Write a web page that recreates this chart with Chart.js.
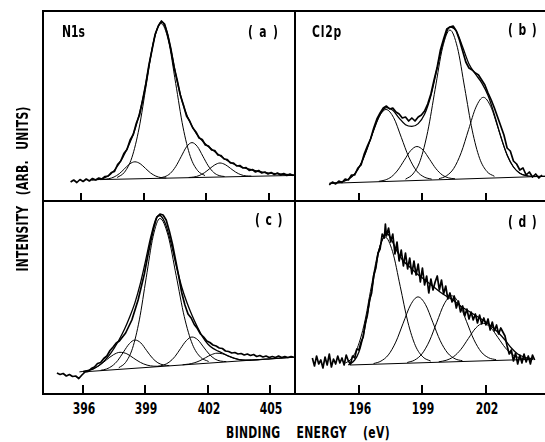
<!DOCTYPE html>
<html><head><meta charset="utf-8">
<script src="https://cdn.jsdelivr.net/npm/chart.js@4.4.1/dist/chart.umd.min.js"></script>
<style>
html,body{margin:0;padding:0;background:#fff;}
body{width:545px;height:442px;position:relative;overflow:hidden;font-family:"Liberation Sans Narrow","DejaVu Sans Condensed",sans-serif;font-weight:bold;color:#000;}
canvas{position:absolute;display:block;}
.ln{position:absolute;background:#000;z-index:3;}
.t{position:absolute;white-space:nowrap;line-height:1;font-size:15px;z-index:4;}
.lt{transform-origin:0 0;transform:scaleX(0.8);}
</style></head><body>
<canvas id="pa" width="252" height="190" style="left:43px;top:11px"></canvas>
<canvas id="pb" width="250" height="190" style="left:295px;top:11px"></canvas>
<canvas id="pc" width="252" height="193" style="left:43px;top:201px"></canvas>
<canvas id="pd" width="250" height="193" style="left:295px;top:201px"></canvas>

<div class="ln" style="left:42px;top:10px;width:503px;height:2px"></div>
<div class="ln" style="left:42px;top:200px;width:503px;height:2px"></div>
<div class="ln" style="left:42px;top:393px;width:503px;height:2px"></div>
<div class="ln" style="left:42px;top:10px;width:2px;height:385px"></div>
<div class="ln" style="left:294px;top:10px;width:2px;height:385px"></div>

<div class="t lt" style="left:62px;top:25px">N1s</div>
<div class="t lt" style="left:248px;top:25px;letter-spacing:8px">(a)</div>
<div class="t lt" style="left:312px;top:25px;letter-spacing:1px">Cl2p</div>
<div class="t lt" style="left:508px;top:23px;letter-spacing:7px">(b)</div>
<div class="t lt" style="left:255px;top:213px;letter-spacing:7px">(c)</div>
<div class="t lt" style="left:508px;top:215px;letter-spacing:7px">(d)</div>
<div class="t" id="xtitle" style="left:308px;top:426px;transform:translateX(-50%) scaleX(0.8);letter-spacing:0.4px;word-spacing:15px">BINDING ENERGY (eV)</div>
<div class="t" id="ytitle" style="left:23px;top:189px;transform:translate(-50%,-50%) rotate(-90deg) scaleX(0.8);letter-spacing:0.3px;word-spacing:8px">INTENSITY (ARB. UNITS)</div>

<script>
// ---------- tick values ----------
const ticksN = [396, 399, 402, 405];
const ticksCl = [196, 199, 202];

// ---------- panel (a) N1s ----------
const aDataE = [395.5,395.65,395.8,395.95,396.1,396.25,396.4,396.55,396.7,396.85,
397,397.15,397.3,397.45,397.6,397.75,397.9,398.05,398.2,398.35,
398.5,398.65,398.8,398.95,399.1,399.25,399.4,399.55,399.7,399.85,
400,400.15,400.3,400.45,400.6,400.75,400.9,401.05,401.2,401.35,
401.5,401.65,401.8,401.95,402.1,402.25,402.4,402.55,402.7,402.85,
403,403.15,403.3,403.45,403.6,403.75,403.9,404.05,404.2,404.35,
404.5,404.65,404.8,404.95,405.1,405.25,405.4,405.55,405.7,405.85,
406,406.15];
const aDataI = [19,21,18.5,21.5,19.5,22,20,22.5,21,23,
22,24.5,25,28.5,29.5,36.5,40,47.5,51.5,61,
66.5,78,86,101,117,136,151.5,167,175,180,
177,166,152,134,121,106,96,85,80,73,
69,63,61.5,56,55,51,50.5,46,45.5,42,
41.5,38,38,35,35.5,33,33.5,30.5,31.5,29,
30.5,28,29,27,28.5,26.5,28,26,27.5,25.5,
27,25.5];
const aFitE = [396.5,397,397.4,397.8,398.2,398.6,399,399.3,399.55,399.85,400.1,400.35,400.6,400.85,401.1,401.5,401.9,402.3,402.8,403.4,404,404.8,405.5,406.2];
const aFitI = [21,22.2,26.5,36.5,52,73,106,141,166,179,170,146,120,99,84,68,58,51,43,36,32,28.3,27,26];
const aC1E = [397.08,397.33,397.58,397.83,398.08,398.33,398.58,398.83,399.08,399.33,399.58,399.83,400.08];
const aC1I = [21.7,22.3,24,27.3,32.2,37.1,39.2,37.3,32.7,28,24.9,23.4,23];
const aC2E = [397.73,398.08,398.43,398.78,399.13,399.48,399.83,400.18,400.53,400.88,401.23,401.58,401.93];
const aC2I = [23.5,28.8,43.2,73,117.1,160.2,177.5,160.5,117.7,73.9,44.5,30.4,25.4];
const aC3E = [399.75,400.01,400.27,400.53,400.79,401.05,401.31,401.57,401.83,402.09,402.35,402.61,402.87];
const aC3I = [23.1,24.3,27.6,34.4,44.3,54.2,58.4,54.4,44.8,35.1,28.5,25.4,24.5];
const aC4E = [401.15,401.4,401.65,401.9,402.15,402.4,402.65,402.9,403.15,403.4,403.65,403.9,404.15];
const aC4I = [23.5,24,25.4,28.2,32.2,36.1,38,36.4,32.7,28.9,26.3,25.1,24.9];
const aBgE = [396.9, 406.24];
const aBgI = [21.4, 25.6];

// ---------- panel (b) Cl2p ----------
const bDataE = [194.6,194.75,194.9,195.05,195.2,195.35,195.5,195.65,195.8,195.95,
196.1,196.25,196.4,196.55,196.7,196.85,197,197.15,197.3,197.45,
197.6,197.75,197.9,198.05,198.2,198.35,198.5,198.65,198.8,198.95,
199.1,199.25,199.4,199.55,199.7,199.85,200,200.15,200.3,200.45,
200.6,200.75,200.9,201.05,201.2,201.35,201.5,201.65,201.8,201.95,
202.1,202.25,202.4,202.55,202.7,202.85,203,203.15,203.3,203.45,
203.6,203.75,203.9,204.05,204.2,204.35,204.5,204.65];
const bDataI = [16,19,17,20,18.5,22,21,26,26,33,
36,47,55,62,73,82,88,93,95,92,
93,89,87,83,84,80,83,80,84,86,
90,97,107,121,134,151,162,172,174,175,
170,161,150,139,133,131,128,126,121,116,
108,101,93,84,75,66,53,50,40,37,
31,33,26,29,24,27,23,26];
const bFitE = [194.6,194.9,195.2,195.5,195.8,196.1,196.4,196.7,197,197.3,197.6,197.9,198.2,198.5,198.8,199.1,199.4,199.7,200,200.3,200.6,200.9,201.2,201.5,201.8,202.1,202.4,202.7,203,203.3,203.6,203.9,204.2,204.79];
const bFitI = [17.7,18.2,19.2,21.7,27.1,37.4,53.1,71,86.5,93.4,90.8,82.9,76.3,74.6,77.4,86.7,105.5,133.5,160,174,170,154,137,127,118.2,105.5,86.3,64.6,46,34,27.8,25.3,24.6,24.7];
const bC1E = [195.12,195.48,195.84,196.2,196.56,196.92,197.28,197.64,198,198.36,198.72,199.08,199.44];
const bC1I = [18.8,21.5,28.2,42.2,62.7,82.8,91.5,83.3,63.7,43.7,30.2,24,21.8];
const bC2E = [196.94,197.24,197.54,197.84,198.14,198.44,198.74,199.04,199.34,199.64,199.94,200.24,200.54];
const bC2I = [19.7,21,24.3,31,40.7,50.3,54.5,50.7,41.6,32.3,26,23.1,22.2];
const bC3E = [198.2,198.55,198.9,199.25,199.6,199.95,200.3,200.65,201,201.35,201.7,202.05,202.4];
const bC3I = [21.8,27,40.7,69.5,111.7,153.2,171,153.7,112.7,70.9,42.7,29.4,24.7];
const bC4E = [199.78,200.13,200.48,200.83,201.18,201.53,201.88,202.23,202.58,202.93,203.28,203.63,203.98];
const bC4I = [22.2,25.1,32.6,48.3,71.4,93.9,103.7,94.3,72.4,49.7,34.6,27.5,25.1];
const bBgE = [194.63, 204.79];
const bBgI = [17.7, 24.7];

// ---------- panel (c) N1s ----------
const cDataE = [394.75,394.9,395.05,395.2,395.35,395.5,395.65,395.8,395.95,396.1,
396.25,396.4,396.55,396.7,396.85,397,397.15,397.3,397.45,397.6,
397.75,397.9,398.05,398.2,398.35,398.5,398.65,398.8,398.95,399.1,
399.25,399.4,399.55,399.7,399.85,400,400.15,400.3,400.45,400.6,
400.75,400.9,401.05,401.2,401.35,401.5,401.65,401.8,401.95,402.1,
402.25,402.4,402.55,402.7,402.85,403,403.15,403.3,403.45,403.6,
403.75,403.9,404.05,404.2,404.35,404.5,404.65,404.8,404.95,405.1,
405.25,405.4,405.55,405.7,405.85,406,406.1];
const cDataI = [21,19.5,20.5,18,19.5,17.5,18,15.5,19,22,
22.5,25.5,27,30.5,31.5,35.5,38,43.5,47,51,
53,57,61,67.5,74,84,94,107,120,136.5,
152,166,177,180,179,174,163,150,134,118,
101,89,80,76,69.5,65.5,60,57,53,51.5,
49,48,46,45.5,43,42.5,41,41.5,40,40.5,
39,40,38.5,39.5,37.5,38.5,37,38,36.5,37.5,
36.5,38,36.5,37.5,36.5,37.5,37];
const cFitE = [396,396.25,396.5,396.75,397,397.25,397.5,397.75,398,398.25,398.5,398.75,399,399.25,399.5,399.7,399.85,400,400.25,400.5,400.75,401,401.25,401.5,401.75,402,402.25,402.5,402.75,403,403.25,403.5,403.75,404,404.5,405,405.5,406.19];
const cFitI = [22.5,23.6,25.2,28.3,32.6,38.3,45.8,54.7,65,77.3,91.4,109.8,132.4,156.3,174.7,178.5,175.2,168.1,149.3,126.8,106.8,91.2,78.2,66.9,57,50,45.6,42.8,40.5,37.8,35.8,34.4,33.9,33.9,34.4,35.2,35.9,36.9];
const cC1E = [395.83,396.16,396.48,396.81,397.13,397.46,397.78,398.11,398.43,398.76,399.08,399.41,399.73];
const cC1I = [22.1,23.1,25.1,28.8,34.1,39.2,41.7,40.2,35.9,31.6,28.9,27.8,27.7];
const cC2E = [396.85,397.13,397.4,397.68,397.95,398.23,398.5,398.78,399.05,399.33,399.6,399.88,400.15];
const cC2I = [23.7,25,28,33.7,42.1,50.3,54,51.1,43.7,36.1,31.2,29,28.4];
const cC3E = [397.72,398.05,398.38,398.71,399.04,399.37,399.7,400.09,400.48,400.87,401.26,401.65,402.04];
const cC3I = [26.2,31.6,45.6,74.1,116.3,157.5,175.5,158.5,118.4,77.3,49.7,36.8,32.5];
const cC4E = [399.59,399.87,400.14,400.42,400.69,400.97,401.24,401.52,401.79,402.07,402.34,402.62,402.89];
const cC4I = [27.6,28.9,31.8,37.4,45.5,53.4,57,54.2,47.1,39.8,35,32.9,32.4];
const cC5E = [400.79,401.07,401.34,401.62,401.89,402.17,402.44,402.72,402.99,403.27,403.54,403.82,404.09];
const cC5I = [29.2,29.9,31.1,33.3,36.3,39.3,40.8,40.1,37.9,35.7,34.3,33.9,33.9];
const cBgE = [396.0, 406.19];
const cBgI = [22.1, 36.9];

// ---------- panel (d) Cl2p ----------
const dDataE = [193.8,193.9,194,194.1,194.2,194.3,194.4,194.5,194.6,194.7,
194.8,194.9,195,195.1,195.2,195.3,195.4,195.5,195.6,195.7,
195.8,195.9,196,196.1,196.2,196.3,196.4,196.5,196.6,196.7,
196.8,196.9,197,197.1,197.2,197.25,197.3,197.4,197.5,197.6,
197.7,197.8,197.9,198,198.1,198.2,198.3,198.4,198.5,198.6,
198.7,198.8,198.9,199,199.1,199.2,199.3,199.4,199.5,199.6,
199.7,199.8,199.9,200,200.1,200.2,200.3,200.4,200.5,200.6,
200.7,200.8,200.9,201,201.1,201.2,201.3,201.4,201.5,201.6,
201.7,201.8,201.9,202,202.1,202.2,202.3,202.4,202.5,202.6,
202.7,202.8,202.9,203,203.1,203.2,203.3,203.4,203.5,203.6,
203.7,203.8,203.9,204,204.1,204.2,204.3];
const dDataI = [36,28,38,30,34,26,37,29,40,27,
35,30,38,31,36,29,39,33,30,38,
36,45,44,52,57,71,79,94,101,119,
126,141,145,160,156,170,158,166,152,160,
140,152,133,144,128,141,125,136,120,133,
119,130,112,126,109,118,101,115,104,112,
118,104,114,100,108,95,101,92,98,86,
93,82,88,78,85,75,82,74,80,71,
79,70,76,69,75,64,72,63,69,60,
66,62,58,48,40,44,33,41,30,39,
31,40,32,38,30,39,34];
const dFitE = [195.5,195.8,196,196.2,196.4,196.6,196.8,197,197.2,197.35,197.5,197.7,197.9,198.1,198.4,198.7,199,199.3,199.6,199.9,200.2,200.5,200.8,201.1,201.4,201.7,202,202.3,202.6,202.9,203.2,203.5,203.8,204.23];
const dFitI = [29,34,42,58,80,104,128,148,158,160,156,147,139,133,127,121,116,111,106,101,97,93,88,84,80,76,72,67,61,54,46,40,37,35];
const dC1E = [195.28,195.61,195.93,196.26,196.58,196.91,197.23,197.59,197.95,198.31,198.67,199.03,199.39];
const dC1I = [30.2,34.6,46.3,70.8,106.8,141.9,157.1,142.3,107.7,72.1,48.2,36.9,32.9];
const dC2E = [196.69,197.04,197.39,197.74,198.09,198.44,198.79,199.14,199.49,199.84,200.19,200.54,200.89];
const dC2I = [30.4,32.9,39.1,51.9,70.8,89.1,97.1,89.6,71.7,53.3,41,35.2,33.2];
const dC3E = [198.28,198.63,198.98,199.33,199.68,200.03,200.38,200.73,201.08,201.43,201.78,202.13,202.48];
const dC3I = [31.5,33.9,40.2,53,71.8,90.1,98.2,90.6,72.7,54.4,42,36.2,34.3];
const dC4E = [199.77,200.12,200.47,200.82,201.17,201.52,201.87,202.22,202.57,202.92,203.27,203.62,203.97];
const dC4I = [32.2,33.7,37.3,44.7,55.5,66,70.7,66.5,56.4,46.1,39.2,36,34.9];
const dBgE = [195.57, 204.23];
const dBgI = [29, 34.7];

// ---------- helpers ----------
function pts(E, I) { return E.map((e, i) => ({x: e, y: I[i]})); }
function comp(E, I) { return {data: pts(E, I), borderColor:'#000', borderWidth:1, cubicInterpolationMode:'monotone', pointRadius:0, fill:false}; }
function line(E, I) { return {data: pts(E, I), borderColor:'#000', borderWidth:1, tension:0, pointRadius:0, fill:false}; }
function fit(E, I) { return {data: pts(E, I), borderColor:'#000', borderWidth:1.3, cubicInterpolationMode:'monotone', pointRadius:0, fill:false}; }
function spec(E, I) { return {data: pts(E, I), borderColor:'#000', borderWidth:1.7, tension:0, pointRadius:0, fill:false, borderJoinStyle:'round'}; }

const tickMarks = {
  id: 'tickMarks',
  afterDatasetsDraw(chart, args, opts) {
    const {ctx, chartArea} = chart; const xs = chart.scales.x;
    ctx.save(); ctx.strokeStyle = '#000'; ctx.lineWidth = 2;
    for (const v of opts.values) {
      const px = Math.round(xs.getPixelForValue(v));
      ctx.beginPath(); ctx.moveTo(px, chartArea.bottom); ctx.lineTo(px, chartArea.bottom - opts.len); ctx.stroke();
    }
    ctx.restore();
  }
};

function panel(id, xmin, xmax, ymax, datasets, ticks, len) {
  return new Chart(document.getElementById(id), {
    type: 'line',
    data: {datasets},
    options: {
      responsive: false, animation: false, events: [],
      layout: {padding: 0},
      plugins: {legend: {display: false}, tooltip: {enabled: false}, tickMarks: {values: ticks, len: len}},
      scales: {
        x: {type: 'linear', min: xmin, max: xmax, display: false},
        y: {type: 'linear', min: 0, max: ymax, display: false}
      }
    },
    plugins: [tickMarks]
  });
}

const chA = panel('pa', 394.18, 406.24, 190, [
  line(aBgE, aBgI), comp(aC1E, aC1I), comp(aC2E, aC2I), comp(aC3E, aC3I), comp(aC4E, aC4I),
  fit(aFitE, aFitI), spec(aDataE, aDataI)], ticksN, 8);
const chB = panel('pb', 192.98, 204.79, 190, [
  line(bBgE, bBgI), comp(bC1E, bC1I), comp(bC2E, bC2I), comp(bC3E, bC3I), comp(bC4E, bC4I),
  fit(bFitE, bFitI), spec(bDataE, bDataI)], ticksCl, 8);
const chC = panel('pc', 394.08, 406.19, 193, [
  line(cBgE, cBgI), comp(cC1E, cC1I), comp(cC2E, cC2I), comp(cC3E, cC3I), comp(cC4E, cC4I), comp(cC5E, cC5I),
  fit(cFitE, cFitI), spec(cDataE, cDataI)], ticksN, 9);
const chD = panel('pd', 192.98, 204.79, 193, [
  line(dBgE, dBgI), comp(dC1E, dC1I), comp(dC2E, dC2I), comp(dC3E, dC3I), comp(dC4E, dC4I),
  fit(dFitE, dFitI), spec(dDataE, dDataI)], ticksCl, 9);

// tick labels under the bottom panels, placed by the charts' own x scales
function labels(chart, left, ticks) {
  for (const v of ticks) {
    const d = document.createElement('div');
    d.className = 't';
    d.textContent = String(v);
    const px = left + chart.scales.x.getPixelForValue(v) + 1;
    d.style.left = px + 'px';
    d.style.top = '402px';
    d.style.transform = 'translateX(-50%) scaleX(0.8)';
    document.body.appendChild(d);
  }
}
labels(chC, 43, ticksN);
labels(chD, 295, ticksCl);
</script>
</body></html>
